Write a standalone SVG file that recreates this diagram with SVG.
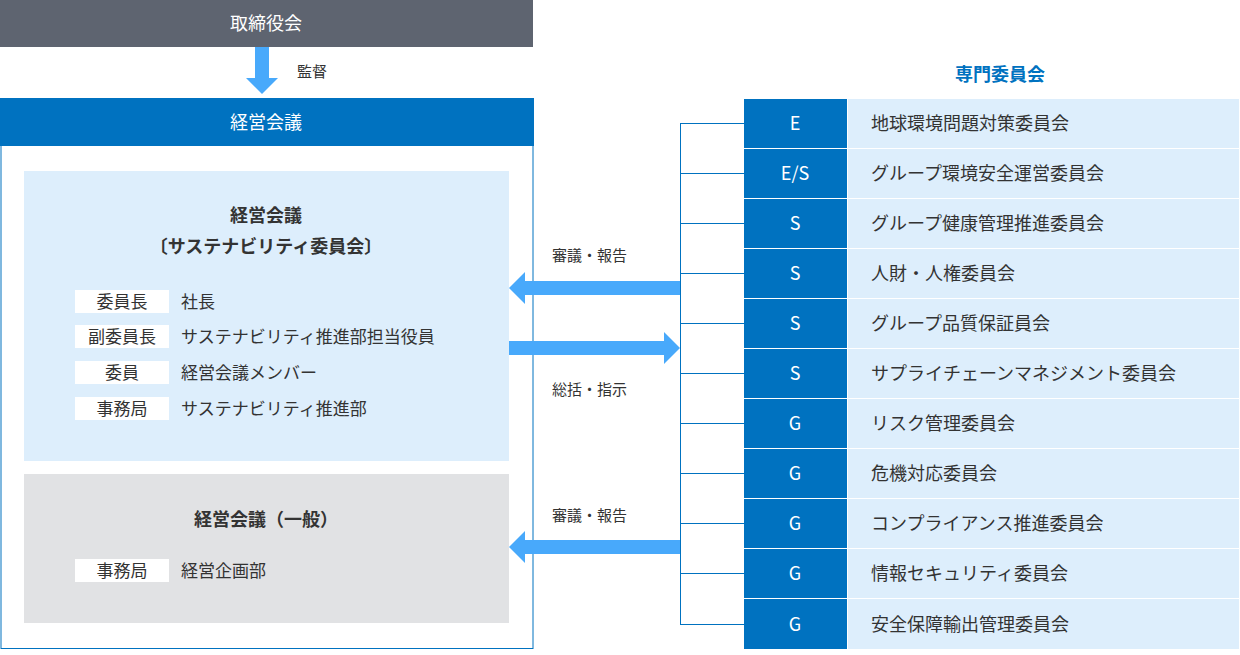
<svg xmlns="http://www.w3.org/2000/svg" width="1240" height="655" viewBox="0 0 1240 655">
<style>
text{font-family:"Noto Sans CJK JP","Noto Sans",sans-serif;}
.w{fill:#fff;font-size:18px;text-anchor:middle;}
.d{fill:#333;font-size:18px;}
.s{fill:#333;font-size:15px;}
.c{fill:#333;font-size:17px;}
.h{fill:#333;font-size:18px;font-weight:bold;text-anchor:middle;}
.badge{fill:#0072C0;}
.pan{fill:#DDEEFC;}
.ln{stroke:#0072C0;stroke-width:1;fill:none;}
.arr{fill:#48A9FB;}
.tag{fill:#fff;}
.tt{fill:#333;font-size:17px;text-anchor:middle;}
</style>
<g id="board"><rect x="0" y="0" width="533" height="47" fill="#5E6470"/><text class="w" x="266" y="30">取締役会</text></g>
<g id="mgmt">
<rect x="1" y="98.5" width="532" height="550" fill="#fff" stroke="#0072C0"/>
<rect x="0" y="98" width="534" height="48" fill="#0072C0"/>
<text class="w" x="266" y="129">経営会議</text>
</g>
<g id="sust">
<rect x="24" y="171" width="485" height="290" fill="#DDEEFC"/>
<text class="h" x="266" y="222">経営会議</text>
<text class="h" x="266" y="253">〔サステナビリティ委員会〕</text>
<rect class="tag" x="75" y="290" width="94" height="23"/><text class="tt" x="122" y="308">委員長</text><text class="c" x="181" y="308">社長</text>
<rect class="tag" x="75" y="325" width="94" height="23"/><text class="tt" x="122" y="343">副委員長</text><text class="c" x="181" y="343">サステナビリティ推進部担当役員</text>
<rect class="tag" x="75" y="361" width="94" height="23"/><text class="tt" x="122" y="379">委員</text><text class="c" x="181" y="379">経営会議メンバー</text>
<rect class="tag" x="75" y="397" width="94" height="23"/><text class="tt" x="122" y="415">事務局</text><text class="c" x="181" y="415">サステナビリティ推進部</text>
</g>
<g id="general">
<rect x="24" y="474" width="485" height="149" fill="#E1E2E4"/>
<text class="h" x="266" y="526">経営会議（一般）</text>
<rect class="tag" x="75" y="559" width="94" height="23"/><text class="tt" x="122" y="577">事務局</text><text class="c" x="181" y="577">経営企画部</text>
</g>
<g id="connectors">
<polygon class="arr" points="255,47 269,47 269,78 278,78 262,94 246,78 255,78"/>
<text class="s" x="297" y="77">監督</text>
<polygon class="arr" points="680,281 525,281 525,272 509,288 525,304 525,295 680,295"/>
<polygon class="arr" points="509,341 664,341 664,332 680,348 664,364 664,355 509,355"/>
<polygon class="arr" points="680,540 525,540 525,531 509,547 525,563 525,554 680,554"/>
<text class="s" x="552" y="261">審議・報告</text>
<text class="s" x="552" y="395">総括・指示</text>
<text class="s" x="552" y="521">審議・報告</text>
<path class="ln" d="M680.5,123.5V624.5M680,123.5H744M680,173.5H744M680,223.5H744M680,273.5H744M680,323.5H744M680,373.5H744M680,423.5H744M680,473.5H744M680,523.5H744M680,573.5H744M680,624.5H744"/>
</g>
<text x="1000" y="81" font-size="18" font-weight="bold" fill="#0072C0" text-anchor="middle" style="font-family:'Noto Sans CJK JP',sans-serif">専門委員会</text>
<g id="c1"><rect class="badge" x="744" y="99" width="103" height="49"/><rect class="pan" x="848" y="99" width="391" height="49"/><text class="w" x="795" y="130">E</text><text class="d" x="871" y="130">地球環境問題対策委員会</text></g>
<g id="c2"><rect class="badge" x="744" y="149" width="103" height="49"/><rect class="pan" x="848" y="149" width="391" height="49"/><text class="w" x="795" y="180">E/S</text><text class="d" x="871" y="180">グループ環境安全運営委員会</text></g>
<g id="c3"><rect class="badge" x="744" y="199" width="103" height="49"/><rect class="pan" x="848" y="199" width="391" height="49"/><text class="w" x="795" y="230">S</text><text class="d" x="871" y="230">グループ健康管理推進委員会</text></g>
<g id="c4"><rect class="badge" x="744" y="249" width="103" height="49"/><rect class="pan" x="848" y="249" width="391" height="49"/><text class="w" x="795" y="280">S</text><text class="d" x="871" y="280">人財・人権委員会</text></g>
<g id="c5"><rect class="badge" x="744" y="299" width="103" height="49"/><rect class="pan" x="848" y="299" width="391" height="49"/><text class="w" x="795" y="330">S</text><text class="d" x="871" y="330">グループ品質保証員会</text></g>
<g id="c6"><rect class="badge" x="744" y="349" width="103" height="49"/><rect class="pan" x="848" y="349" width="391" height="49"/><text class="w" x="795" y="380">S</text><text class="d" x="871" y="380">サプライチェーンマネジメント委員会</text></g>
<g id="c7"><rect class="badge" x="744" y="399" width="103" height="49"/><rect class="pan" x="848" y="399" width="391" height="49"/><text class="w" x="795" y="430">G</text><text class="d" x="871" y="430">リスク管理委員会</text></g>
<g id="c8"><rect class="badge" x="744" y="449" width="103" height="49"/><rect class="pan" x="848" y="449" width="391" height="49"/><text class="w" x="795" y="480">G</text><text class="d" x="871" y="480">危機対応委員会</text></g>
<g id="c9"><rect class="badge" x="744" y="499" width="103" height="49"/><rect class="pan" x="848" y="499" width="391" height="49"/><text class="w" x="795" y="530">G</text><text class="d" x="871" y="530">コンプライアンス推進委員会</text></g>
<g id="c10"><rect class="badge" x="744" y="549" width="103" height="49"/><rect class="pan" x="848" y="549" width="391" height="49"/><text class="w" x="795" y="580">G</text><text class="d" x="871" y="580">情報セキュリティ委員会</text></g>
<g id="c11"><rect class="badge" x="744" y="599" width="103" height="50"/><rect class="pan" x="848" y="599" width="391" height="50"/><text class="w" x="795" y="631">G</text><text class="d" x="871" y="631">安全保障輸出管理委員会</text></g>
</svg>
